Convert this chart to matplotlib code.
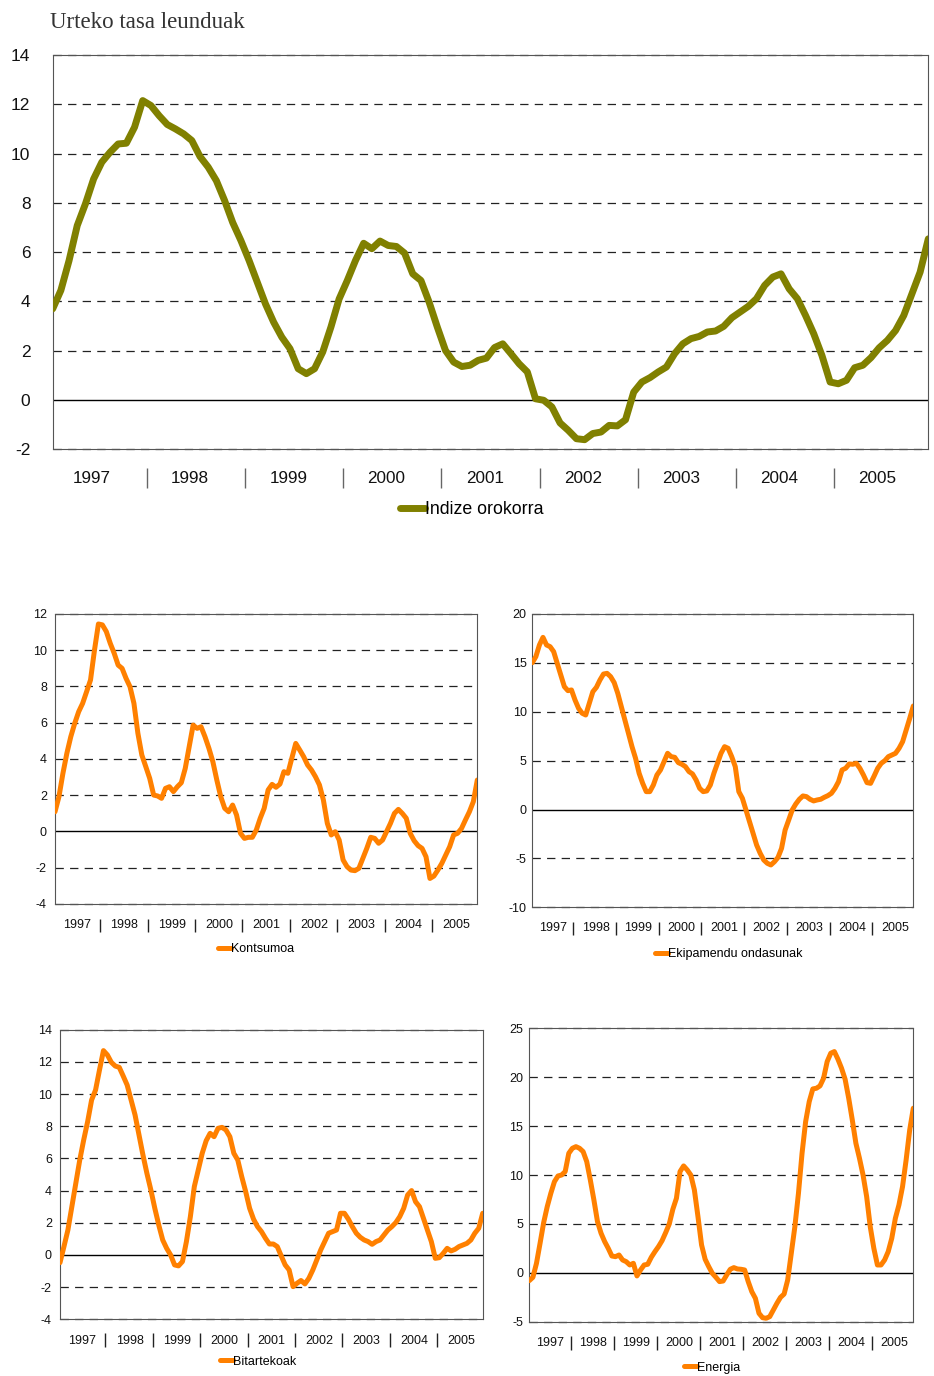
import numpy as np
import matplotlib
matplotlib.use("Agg")
import matplotlib.pyplot as plt

plt.rcParams['font.family'] = ['Liberation Sans', 'DejaVu Sans']
plt.rcParams['lines.scale_dashes'] = False

# ---------------- data (monthly, Jan 1997 - Dec 2005) ----------------
years = ['1997', '1998', '1999', '2000', '2001', '2002', '2003', '2004', '2005']

indize_orokorra = [
    3.70, 4.45, 5.66, 7.08, 7.96, 8.97, 9.65, 10.05, 10.39, 10.42,
    11.07, 12.15, 11.95, 11.54, 11.18, 11.00, 10.80, 10.53, 9.88, 9.45,
    8.90, 8.10, 7.20, 6.47, 5.66, 4.78, 3.90, 3.16, 2.55, 2.08,
    1.27, 1.07, 1.27, 1.95, 2.96, 4.10, 4.85, 5.66, 6.36, 6.14,
    6.45, 6.27, 6.23, 5.96, 5.12, 4.85, 3.97, 2.96, 2.01, 1.54,
    1.36, 1.41, 1.61, 1.70, 2.13, 2.28, 1.88, 1.47, 1.14, 0.05,
    -0.01, -0.28, -0.93, -1.23, -1.57, -1.61, -1.36, -1.30, -1.03, -1.05,
    -0.80, 0.32, 0.73, 0.91, 1.14, 1.34, 1.88, 2.28, 2.49, 2.58,
    2.76, 2.80, 2.99, 3.34, 3.57, 3.80, 4.11, 4.65, 4.99, 5.12,
    4.51, 4.11, 3.43, 2.69, 1.81, 0.73, 0.66, 0.80, 1.31, 1.41,
    1.72, 2.12, 2.42, 2.82, 3.43, 4.31, 5.19, 6.54]

kontsumoa = [
    1.09, 1.92, 3.20, 4.31, 5.23, 5.97, 6.61, 7.07, 7.71, 8.36,
    10.0, 11.45, 11.40, 11.03, 10.38, 9.83, 9.18, 9.00, 8.45, 7.99,
    7.07, 5.42, 4.22, 3.58, 2.93, 2.01, 1.96, 1.83, 2.38, 2.47,
    2.20, 2.47, 2.69, 3.48, 4.68, 5.87, 5.69, 5.78, 5.23, 4.59,
    3.85, 2.84, 1.92, 1.28, 1.09, 1.46, 0.91, -0.10, -0.38, -0.32,
    -0.32, 0.08, 0.73, 1.28, 2.29, 2.60, 2.44, 2.62, 3.30, 3.21,
    4.04, 4.86, 4.50, 4.13, 3.67, 3.39, 3.02, 2.57, 1.74, 0.45,
    -0.19, -0.01, -0.47, -1.57, -1.94, -2.13, -2.16, -2.03, -1.48, -0.93,
    -0.32, -0.38, -0.65, -0.47, -0.01, 0.45, 1.00, 1.22, 1.00, 0.73,
    -0.10, -0.51, -0.78, -0.93, -1.39, -2.59, -2.46, -2.13, -1.76, -1.30,
    -0.84, -0.19, -0.10, 0.17, 0.64, 1.09, 1.65, 2.84]

ekipamendu_ondasunak = [
    15.02, 15.64, 16.83, 17.61, 16.83, 16.66, 16.15, 14.95, 13.76, 12.57,
    12.16, 12.23, 11.20, 10.35, 9.85, 9.67, 10.86, 12.05, 12.50, 13.25,
    13.86, 13.93, 13.59, 12.98, 11.89, 10.52, 9.16, 7.80, 6.43, 5.24,
    3.71, 2.68, 1.83, 1.83, 2.51, 3.53, 4.05, 4.90, 5.75, 5.41,
    5.34, 4.80, 4.63, 4.39, 3.88, 3.64, 3.02, 2.17, 1.83, 1.90,
    2.51, 3.71, 4.73, 5.75, 6.43, 6.26, 5.41, 4.39, 1.83, 1.15,
    -0.04, -1.24, -2.43, -3.63, -4.48, -5.16, -5.50, -5.67, -5.34, -4.90,
    -3.97, -2.10, -1.08, -0.04, 0.57, 1.05, 1.39, 1.32, 1.05, 0.88,
    0.98, 1.05, 1.25, 1.42, 1.66, 2.17, 2.85, 4.05, 4.22, 4.66,
    4.63, 4.73, 4.22, 3.53, 2.75, 2.68, 3.43, 4.22, 4.73, 5.00,
    5.41, 5.58, 5.75, 6.26, 6.94, 8.13, 9.33, 10.59]

bitartekoak = [
    -0.48, 0.52, 1.55, 3.00, 4.45, 5.90, 7.15, 8.29, 9.63, 10.25,
    11.50, 12.70, 12.43, 11.97, 11.74, 11.66, 11.12, 10.56, 9.63, 8.70,
    7.46, 6.21, 5.07, 4.04, 2.90, 1.86, 0.93, 0.41, 0.00, -0.62,
    -0.68, -0.41, 0.83, 2.38, 4.25, 5.28, 6.32, 7.10, 7.56, 7.35,
    7.87, 7.93, 7.77, 7.35, 6.32, 5.90, 4.87, 3.94, 2.90, 2.22,
    1.76, 1.45, 1.04, 0.68, 0.68, 0.52, -0.06, -0.62, -0.93, -1.97,
    -1.76, -1.59, -1.80, -1.45, -0.93, -0.31, 0.31, 0.83, 1.35, 1.45,
    1.55, 2.59, 2.59, 2.22, 1.76, 1.35, 1.10, 0.93, 0.83, 0.66,
    0.83, 0.93, 1.24, 1.55, 1.76, 2.01, 2.38, 2.90, 3.73, 4.00,
    3.31, 3.00, 2.28, 1.55, 0.83, -0.21, -0.17, 0.10, 0.41, 0.25,
    0.35, 0.52, 0.62, 0.72, 0.93, 1.35, 1.66, 2.59]

energia = [
    -0.80, -0.46, 0.97, 3.02, 5.13, 6.77, 8.13, 9.32, 9.90, 10.00,
    10.35, 12.22, 12.73, 12.90, 12.73, 12.39, 11.37, 9.50, 7.45, 5.23,
    4.04, 3.19, 2.50, 1.72, 1.65, 1.82, 1.31, 1.14, 0.80, 0.97,
    -0.32, 0.29, 0.80, 0.87, 1.59, 2.16, 2.68, 3.29, 4.11, 4.99,
    6.50, 7.62, 10.35, 10.93, 10.52, 10.00, 8.47, 5.74, 2.85, 1.38,
    0.63, -0.05, -0.46, -0.90, -0.84, -0.22, 0.36, 0.53, 0.39, 0.36,
    0.29, -0.90, -1.93, -2.61, -4.14, -4.59, -4.65, -4.48, -3.80, -3.12,
    -2.51, -2.17, -0.73, 1.99, 4.72, 8.13, 12.22, 15.46, 17.50, 18.80,
    18.87, 19.11, 19.89, 21.60, 22.45, 22.62, 21.84, 20.92, 19.79, 17.85,
    15.63, 13.25, 11.71, 10.00, 7.79, 4.72, 2.51, 0.80, 0.80, 1.31,
    2.16, 3.53, 5.57, 6.94, 8.81, 11.54, 14.61, 16.83]

# ---------------- layout ----------------
W, H = 934, 1376
fig = plt.figure(figsize=(W / 100, H / 100), dpi=100)

OLIVE = '#808000'
ORANGE = '#FF8000'


def px_axes(l, t, r, b):
    return fig.add_axes([l / W, 1 - b / H, (r - l) / W, (b - t) / H])


def draw(ax, values, name, color, lw, ylim, step, fs, pad, label_y, label_dx,
         sep_y0, sep_y1, sep_color, year_fs, leg_xy, leg_fs, handlelen):
    x = np.arange(len(values))
    ax.plot(x, values, color=color, lw=lw, solid_capstyle='round',
            solid_joinstyle='round', label=name, zorder=3)
    ax.set_xlim(0, len(values) - 1)
    ax.set_ylim(*ylim)
    ticks = np.arange(ylim[0], ylim[1] + step / 2, step)
    ax.set_yticks(ticks)
    ax.set_yticklabels([f'{t:g}' for t in ticks])
    ax.tick_params(axis='y', length=0, pad=pad, labelsize=fs, labelcolor='#111')
    ax.set_xticks([])
    for t in ticks:
        if t == 0:
            ax.axhline(0, color='black', lw=1.0, zorder=2)
        else:
            ax.axhline(t, color='#222', lw=0.9, ls=(0, (6, 4.5)), zorder=1,
                       clip_on=False)
    for sp in ax.spines.values():
        sp.set_color('#555')
        sp.set_linewidth(0.8)
    trans = ax.get_xaxis_transform()
    seps = [12 * k - 0.5 for k in range(1, len(years))]
    ax.vlines(seps, sep_y0, sep_y1, transform=trans, colors=sep_color,
              lw=1.0, clip_on=False)
    for k, yr in enumerate(years):
        ax.text(12 * k + 5.5 + label_dx, label_y, yr, transform=trans,
                ha='center', va='center', fontsize=year_fs, color='#111')
    fig.legend(handles=ax.get_lines()[:1], loc='center left',
               bbox_to_anchor=leg_xy, bbox_transform=fig.transFigure,
               frameon=False, fontsize=leg_fs, handlelength=handlelen,
               handletextpad=0.0, borderpad=0, borderaxespad=0)


# title
fig.text(50 / W, 1 - 22 / H, 'Urteko tasa leunduak', family='Liberation Serif',
         fontsize=16.5, va='center', ha='left', color='#333')

# main chart
ax0 = px_axes(52.7, 55, 928.3, 449.3)
draw(ax0, indize_orokorra, 'Indize orokorra', OLIVE, 5.0, (-2, 14), 2, 12.5, 16,
     -0.0728, -0.7, -0.0474, -0.098, '#666', 12.3, (400 / W, 1 - 510 / H), 12.8, 1.4)

# small charts
ax1 = px_axes(55, 614, 477.3, 904)
draw(ax1, kontsumoa, 'Kontsumoa', ORANGE, 3.6, (-4, 12), 2, 9, 5.8,
     -0.0724, 0.1, -0.053, -0.0955, '#222', 9, (218 / W, 1 - 949 / H), 9, 1.0)

ax2 = px_axes(532.3, 614, 913.3, 907.3)
draw(ax2, ekipamendu_ondasunak, 'Ekipamendu ondasunak', ORANGE, 3.6, (-10, 20), 5,
     9, 4.0, -0.0706, 0.3, -0.0494, -0.0948, '#222', 9, (655 / W, 1 - 954 / H), 9, 1.0)

ax3 = px_axes(60, 1029.7, 482.7, 1319.3)
draw(ax3, bitartekoak, 'Bitartekoak', ORANGE, 3.6, (-4, 14), 2, 9, 5.8,
     -0.0739, 0.1, -0.0483, -0.0967, '#222', 9, (220 / W, 1 - 1361.7 / H), 9, 1.0)

ax4 = px_axes(529.3, 1028.3, 913.3, 1321.7)
draw(ax4, energia, 'Energia', ORANGE, 3.6, (-5, 25), 5, 9, 4.3,
     -0.0716, 0.3, -0.0487, -0.0965, '#222', 9, (684 / W, 1 - 1367.7 / H), 9, 1.0)

fig.savefig('out.png', dpi=100)
